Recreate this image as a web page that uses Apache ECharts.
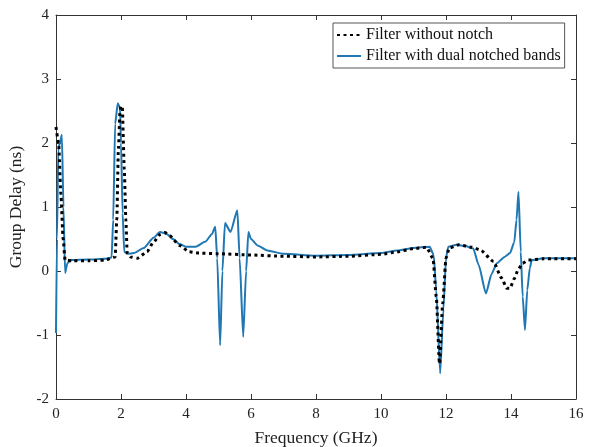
<!DOCTYPE html>
<html>
<head>
<meta charset="utf-8">
<script src="https://cdn.jsdelivr.net/npm/echarts@6/dist/echarts.min.js"></script>
<style>
html,body{margin:0;padding:0;background:#fff;}
#chart{width:590px;height:447px;}
</style>
</head>
<body>
<div id="chart"></div>
<script>
// Filter without notch (black dotted)
var freqNoNotch = [0, 0.08, 0.15, 0.22, 0.28, 0.5, 1.0, 1.5, 1.82, 1.87, 1.92, 1.97, 2.0, 2.04, 2.1, 2.15, 2.19, 2.3, 2.5, 2.8, 3.0, 3.2, 3.35, 3.5, 3.8, 4.1, 4.4, 5, 6, 7, 8, 9, 10, 10.5, 11, 11.4, 11.6, 11.7, 11.8, 11.9, 12.0, 12.1, 12.4, 12.8, 13.05, 13.46, 13.71, 13.87, 13.97, 14.1, 14.22, 14.35, 14.53, 15, 16];
var delayNoNotch = [2.25, 2.0, 1.2, 0.5, 0.17, 0.16, 0.16, 0.17, 0.22, 0.8, 1.9, 2.5, 2.58, 2.55, 1.6, 0.8, 0.28, 0.22, 0.2, 0.3, 0.45, 0.57, 0.6, 0.55, 0.4, 0.3, 0.28, 0.27, 0.25, 0.23, 0.22, 0.23, 0.26, 0.3, 0.35, 0.37, 0.2, -0.4, -1.45, -0.5, 0.2, 0.36, 0.41, 0.37, 0.33, 0.15, -0.11, -0.27, -0.27, -0.12, 0.02, 0.12, 0.17, 0.19, 0.19];

// Filter with dual notched bands (blue)
var freqNotched = [0, 0.03, 0.07, 0.12, 0.18, 0.23, 0.28, 0.35, 0.45, 1.0, 1.5, 1.71, 1.76, 1.82, 1.9, 1.97, 2.0, 2.05, 2.1, 2.2, 2.4, 2.7, 3.0, 3.2, 3.4, 3.6, 3.8, 4.0, 4.3, 4.6, 4.8, 4.9, 4.96, 5.05, 5.12, 5.2, 5.37, 5.58, 5.65, 5.76, 5.85, 5.92, 6.0, 6.2, 6.5, 7.0, 8, 9, 10, 10.5, 11, 11.5, 11.62, 11.7, 11.82, 11.92, 12.0, 12.07, 12.33, 12.6, 12.84, 13.0, 13.23, 13.4, 13.56, 13.8, 13.97, 14.1, 14.17, 14.23, 14.3, 14.36, 14.43, 14.5, 14.58, 14.64, 15, 16];
var delayNotched = [-0.97, 0.5, 1.9, 2.0, 2.13, 1.0, -0.03, 0.12, 0.17, 0.18, 0.19, 0.21, 0.8, 2.3, 2.62, 2.55, 2.0, 0.9, 0.3, 0.27, 0.28, 0.36, 0.52, 0.61, 0.58, 0.5, 0.42, 0.38, 0.38, 0.46, 0.58, 0.69, 0.2, -1.16, 0.0, 0.75, 0.61, 0.95, 0.2, -1.03, 0.0, 0.61, 0.5, 0.4, 0.32, 0.27, 0.24, 0.25, 0.28, 0.32, 0.36, 0.38, 0.25, -0.3, -1.6, -0.6, 0.2, 0.38, 0.41, 0.39, 0.35, 0.1, -0.35, -0.05, 0.12, 0.22, 0.28, 0.45, 0.8, 1.24, 0.3, -0.4, -0.92, -0.3, 0.05, 0.17, 0.2, 0.2];

var xTicks = [0, 2, 4, 6, 8, 10, 12, 14, 16];
var yTicks = [-2, -1, 0, 1, 2, 3, 4];

function pairs(xs, ys) { return xs.map(function (x, i) { return [x, ys[i]]; }); }

var FONT = 'Liberation Serif';
var AX = '#333';
var chart = echarts.init(document.getElementById('chart'));
var baseX = {
  type: 'value', min: xTicks[0], max: xTicks[xTicks.length - 1], interval: 2,
  axisLine: { show: true, onZero: false, lineStyle: { color: AX, width: 1 } },
  axisTick: { show: true, inside: true, length: 5, lineStyle: { color: AX } },
  splitLine: { show: false }
};
var baseY = {
  type: 'value', min: yTicks[0], max: yTicks[yTicks.length - 1], interval: 1,
  axisLine: { show: true, onZero: false, lineStyle: { color: AX, width: 1 } },
  axisTick: { show: true, inside: true, length: 5, lineStyle: { color: AX } },
  splitLine: { show: false }
};
chart.setOption({
  animation: false,
  backgroundColor: '#fff',
  textStyle: { fontFamily: FONT },
  grid: { left: 56, right: 14, top: 15, bottom: 48, containLabel: false, outerBoundsMode: 'none' },
  legend: {
    orient: 'vertical', left: 333, top: 23,
    backgroundColor: '#fff', borderColor: '#555', borderWidth: 1,
    padding: [4, 4, 4, 3], itemWidth: 24, itemHeight: 14, itemGap: 5,
    itemStyle: { opacity: 0 },
    textStyle: { fontFamily: FONT, fontSize: 16, color: '#111' },
    data: ['Filter without notch', 'Filter with dual notched bands']
  },
  xAxis: [
    Object.assign({}, baseX, {
      position: 'bottom', name: 'Frequency (GHz)', nameLocation: 'middle', nameGap: 30,
      nameTextStyle: { fontFamily: FONT, fontSize: 17.5, color: '#222' },
      axisLabel: { show: true, margin: 8, fontFamily: FONT, fontSize: 15, color: '#222' }
    }),
    Object.assign({}, baseX, { position: 'top', axisLabel: { show: false } })
  ],
  yAxis: [
    Object.assign({}, baseY, {
      position: 'left', name: 'Group Delay (ns)', nameLocation: 'middle', nameGap: 28,
      nameTextStyle: { fontFamily: FONT, fontSize: 17.5, color: '#222' },
      axisLabel: { show: true, margin: 7, fontFamily: FONT, fontSize: 15, color: '#222' }
    }),
    Object.assign({}, baseY, { position: 'right', axisLabel: { show: false } })
  ],
  series: [
    {
      name: 'Filter without notch', type: 'line', xAxisIndex: 0, yAxisIndex: 0,
      data: pairs(freqNoNotch, delayNoNotch), showSymbol: false, symbol: 'none', z: 4,
      smooth: 0.2, smoothMonotone: 'x',
      lineStyle: { color: '#000', width: 3, type: [3, 3.5], cap: 'butt' },
      itemStyle: { color: '#000' }
    },
    {
      name: 'Filter with dual notched bands', type: 'line', xAxisIndex: 0, yAxisIndex: 0,
      data: pairs(freqNotched, delayNotched), showSymbol: false, symbol: 'none', z: 3,
      smooth: 0.2, smoothMonotone: 'x',
      lineStyle: { color: '#1f77b4', width: 2 },
      itemStyle: { color: '#1f77b4' }
    }
  ]
});
</script>
</body>
</html>
